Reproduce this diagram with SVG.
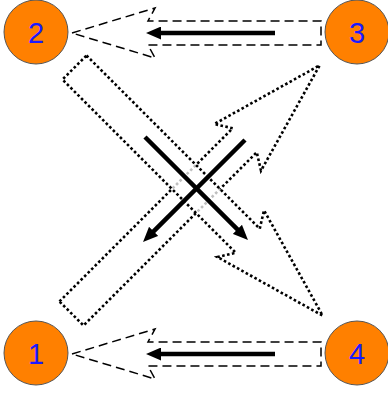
<svg xmlns="http://www.w3.org/2000/svg" width="388" height="394" viewBox="0 0 388 394">
<defs>
<style>
.node{fill:#FF8000;stroke:#555;stroke-width:1}
.lbl{font-family:"Liberation Sans",Arial,sans-serif;font-size:29px;fill:#1a1aff;text-anchor:middle}
.dash{fill:none;stroke:#000;stroke-width:1.5;stroke-dasharray:9,5}
.dot{fill:#fff;fill-opacity:0.75;stroke:#000;stroke-width:2.6;stroke-dasharray:2.6,2.4}
.thick{stroke:#000;stroke-width:4.5;fill:none;marker-end:url(#ah)}
</style>
<marker id="ah" markerUnits="userSpaceOnUse" markerWidth="15" markerHeight="13" viewBox="0 0 15 13" refX="5" refY="6.5" orient="auto">
<path d="M0,0 L15,6.5 L0,13 z" fill="#000"/>
</marker>
<polygon id="big" points="0,-17 245,-17 235,-33 351,0 235,33 245,17 0,17"/>
</defs>
<g id="connectors">
<polygon class="dash" points="72,33 155,8 148,21 321,21 321,45 148,45 155,58"/>
<polygon class="dash" points="72,354 155,329 148,342 321,342 321,366 148,366 155,379"/>
<use href="#big" class="dot" transform="translate(71.5,313.5) rotate(-45)"/>
<use href="#big" class="dot" transform="translate(74.5,67.5) rotate(45)"/>
<line class="thick" x1="275" y1="33" x2="156" y2="33"/>
<line class="thick" x1="275" y1="354" x2="156" y2="354"/>
<line class="thick" x1="145" y1="137" x2="240.9" y2="232.9"/>
<line class="thick" x1="245" y1="140" x2="150.1" y2="234.9"/>
</g>
<g id="n2"><circle class="node" cx="36" cy="32" r="32"/><text class="lbl" x="36" y="42.5">2</text></g>
<g id="n3"><circle class="node" cx="357" cy="32" r="32"/><text class="lbl" x="357" y="42.5">3</text></g>
<g id="n1"><circle class="node" cx="36" cy="353" r="32"/><text class="lbl" x="36" y="363.5">1</text></g>
<g id="n4"><circle class="node" cx="357" cy="353" r="32"/><text class="lbl" x="357" y="363.5">4</text></g>
</svg>
